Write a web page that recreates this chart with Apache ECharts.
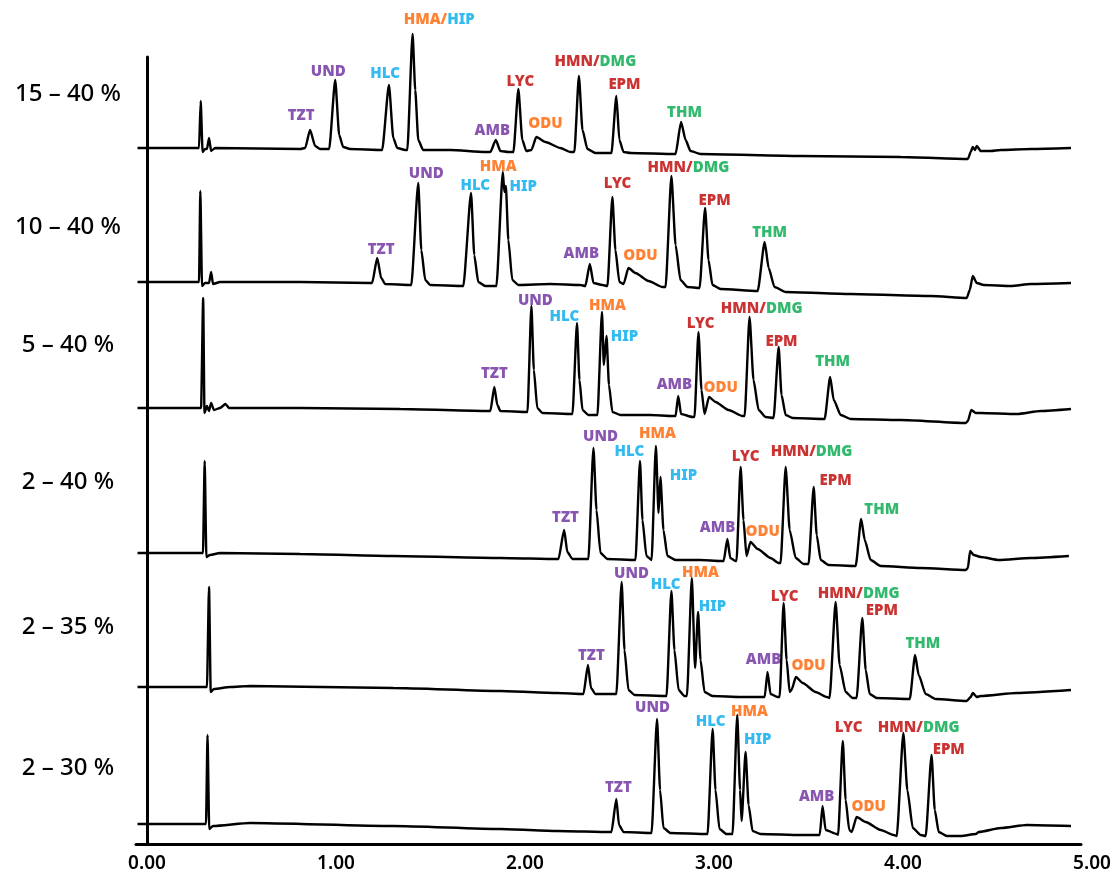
<!DOCTYPE html>
<html><head><meta charset="utf-8">
<script src="https://cdn.jsdelivr.net/npm/echarts@6/dist/echarts.min.js"></script>
<style>html,body{margin:0;padding:0;background:#fff}#c{width:1114px;height:873px}</style>
</head><body><div id="c"></div>
<script>
// ---- data ----
const gradients = ['15 – 40 %', '10 – 40 %', '5 – 40 %', '2 – 40 %', '2 – 35 %', '2 – 30 %'];
const timeTicks = [0, 1, 2, 3, 4, 5];
// vertical offset of each chromatogram (stacking level)
const baselineOffsets = [696, 562, 436, 291, 157, 20];

// [time (min), signal relative to starting baseline]
const trace15_40 = [
[-0.05,0],[0.275,0],[0.284,47],[0.294,-4],[0.307,-1],[0.317,-1],[0.328,10],[0.339,-3],[0.36,0],
[0.81,-1],[0.836,0],[0.862,18],[0.889,2],[0.915,-1],
[0.963,-1],[0.995,68],[1.016,13],[1.037,1],[1.074,-1],
[1.243,-2],[1.279,63],[1.302,10],[1.323,0],[1.365,-2],
[1.376,-2],[1.404,114],[1.418,58],[1.434,8],[1.46,-2],
[1.603,-2],[1.788,-4],
[1.815,-4],[1.844,8],[1.868,-3],[1.91,-4],
[1.937,-4],[1.963,59],[1.984,8],[2.005,-3],
[2.032,-2],[2.058,11],[2.106,6],[2.185,0],[2.238,-4],
[2.259,-4],[2.283,72],[2.302,18],[2.328,-1],[2.37,-5],
[2.455,-5],[2.481,52],[2.497,8],[2.519,-4],[2.556,-5],
[2.794,-6],[2.823,26],[2.847,8],[2.873,-3],[2.926,-6],
[3.455,-8],[3.984,-9],[4.339,-11],
[4.354,-4],[4.365,1],[4.376,-2],[4.386,2],[4.407,-3],[4.46,-3],[4.513,-2],[4.672,-1],[4.884,0]
];
const trace10_40 = [
[-0.05,0],[0.275,0],[0.282,91],[0.291,-4],[0.307,-1],[0.328,-1],[0.339,10],[0.349,-2],[0.386,0],
[0.81,0],[1.18,-1],
[1.19,-1],[1.217,24],[1.238,4],[1.259,-2],
[1.397,-3],[1.434,99],[1.45,32],[1.471,2],[1.497,-3],
[1.672,-4],[1.713,89],[1.73,27],[1.751,0],[1.788,-4],
[1.847,-4],[1.881,110],[1.889,90],[1.897,96],[1.91,42],[1.931,2],[1.963,-3],
[2.132,-2],[2.291,-3],
[2.317,-4],[2.341,18],[2.36,-1],[2.407,-3],
[2.434,-4],[2.46,85],[2.476,32],[2.497,0],[2.519,-2],
[2.545,14],[2.582,9],[2.651,1],[2.725,-5],
[2.741,-5],[2.772,106],[2.794,37],[2.82,2],[2.857,-5],
[2.921,-6],[2.95,74],[2.968,22],[2.989,-3],[3.032,-7],
[3.228,-9],[3.265,40],[3.286,14],[3.317,-5],[3.376,-10],
[3.72,-12],[4.143,-14],[4.333,-16],
[4.349,-8],[4.365,6],[4.386,-1],[4.423,-3],[4.566,-4],[4.672,-2],[4.884,-1]
];
const trace5_40 = [
[-0.05,0],[0.286,0],[0.297,110],[0.304,-5],[0.317,2],[0.328,-3],[0.339,5],[0.354,-2],[0.386,0],[0.415,4],[0.434,0],
[0.81,0],[1.339,-1],[1.804,-3],
[1.815,-3],[1.836,21],[1.852,3],[1.868,-3],
[2.011,-4],[2.032,102],[2.045,38],[2.063,0],[2.09,-5],
[2.249,-6],[2.273,85],[2.286,28],[2.302,-2],[2.333,-7],
[2.381,-7],[2.405,96],[2.415,43],[2.429,72],[2.442,23],[2.46,-4],[2.503,-7],
[2.661,-7],[2.778,-8],
[2.794,-8],[2.808,12],[2.823,-6],[2.884,-9],
[2.894,-9],[2.915,76],[2.931,18],[2.947,-6],
[2.971,11],[3.005,6],[3.074,-2],[3.148,-8],
[3.159,-8],[3.185,91],[3.206,28],[3.233,-2],[3.27,-9],
[3.312,-10],[3.339,61],[3.354,13],[3.376,-7],[3.413,-10],
[3.582,-11],[3.611,31],[3.63,8],[3.667,-7],[3.72,-11],
[3.984,-12],[4.328,-15],
[4.339,-13],[4.357,-2],[4.381,-5],[4.407,-5],[4.598,-6],[4.725,-3],[4.884,-1]
];
const trace2_40 = [
[-0.05,0],[0.296,0],[0.305,92],[0.314,-4],[0.333,-2],[0.386,0],
[0.81,-1],[1.302,-3],[1.868,-5],
[2.175,-6],[2.205,23],[2.222,1],[2.249,-6],
[2.333,-6],[2.36,105],[2.376,43],[2.397,0],[2.434,-6],
[2.582,-7],[2.606,92],[2.619,33],[2.64,-3],[2.667,-7],
[2.69,107],[2.704,40],[2.714,76],[2.73,23],[2.751,-3],[2.794,-7],
[2.926,-7],[3.032,-8],
[3.048,-8],[3.068,14],[3.083,-5],[3.111,-8],
[3.116,-8],[3.138,86],[3.153,33],[3.169,-3],
[3.19,11],[3.228,4],[3.296,-5],[3.339,-10],
[3.349,-10],[3.376,86],[3.397,23],[3.429,-5],[3.471,-11],
[3.497,-11],[3.524,66],[3.54,18],[3.561,-7],[3.603,-12],
[3.746,-13],[3.775,34],[3.794,13],[3.825,-7],[3.878,-13],
[4.09,-15],[4.328,-17],
[4.339,-15],[4.351,2],[4.37,-2],[4.407,-4],[4.503,-7],[4.672,-5],[4.873,-3]
];
const trace2_35 = [
[-0.05,0],[0.317,0],[0.328,100],[0.337,-5],[0.354,-2],[0.439,0],[0.545,1],
[1.302,-1],[1.868,-4],[2.169,-6],
[2.307,-7],[2.331,22],[2.347,-1],[2.37,-7],
[2.481,-7],[2.509,105],[2.524,37],[2.545,-3],[2.577,-8],
[2.746,-9],[2.772,96],[2.788,37],[2.81,-3],[2.841,-9],
[2.854,-9],[2.88,109],[2.897,19],[2.913,75],[2.926,27],[2.947,-5],[2.989,-9],
[3.138,-10],[3.254,-10],
[3.265,-10],[3.28,15],[3.296,-7],[3.333,-10],
[3.344,-10],[3.365,84],[3.381,27],[3.397,-5],
[3.407,-3],[3.43,10],[3.466,4],[3.534,-5],[3.593,-10],
[3.608,-11],[3.64,85],[3.661,22],[3.693,-5],[3.73,-11],
[3.751,-11],[3.781,69],[3.799,17],[3.82,-7],[3.857,-11],
[4.032,-12],[4.06,32],[4.079,12],[4.116,-7],[4.169,-12],
[4.333,-14],
[4.354,-10],[4.365,-6],[4.386,-10],[4.407,-9],[4.598,-6],[4.884,-3]
];
const trace2_30 = [
[-0.05,0],[0.312,0],[0.32,89],[0.329,-5],[0.349,-2],[0.545,1],
[1.302,-2],[1.868,-5],[2.169,-7],
[2.455,-8],[2.481,25],[2.495,-1],[2.519,-8],
[2.667,-9],[2.696,105],[2.712,34],[2.73,-4],[2.767,-9],
[2.963,-10],[2.99,95],[3.005,34],[3.026,-5],[3.063,-10],
[3.095,-10],[3.12,109],[3.135,34],[3.143,3],[3.164,72],[3.18,19],[3.201,-7],[3.243,-10],
[3.455,-11],[3.55,-11],
[3.556,-11],[3.571,18],[3.587,-6],[3.646,-10],
[3.653,-11],[3.678,83],[3.693,24],[3.712,-6],[3.725,-8],
[3.751,7],[3.799,2],[3.878,-6],[3.947,-11],
[3.963,-12],[3.998,91],[4.019,34],[4.048,-4],[4.09,-11],
[4.116,-12],[4.147,69],[4.164,14],[4.185,-8],[4.228,-12],
[4.302,-12],[4.381,-10],[4.397,-8],[4.513,-4],[4.651,-1],[4.884,-2]
];

// peak annotations: [name, time, level]
const peaks15_40 = [['TZT',0.815,728],['UND',0.958,772],['HLC',1.259,770],['HMA/HIP',1.545,824],['AMB',1.825,713],['LYC',1.974,762],['ODU',2.106,720],['HMN/DMG',2.370,782],['EPM',2.524,759],['THM',2.841,731]];
const peaks10_40 = [['TZT',1.238,594],['UND',1.476,670],['HLC',1.735,658],['HMA',1.857,677],['HIP',1.989,657],['AMB',2.296,590],['LYC',2.487,660],['ODU',2.608,588],['HMN/DMG',2.862,676],['EPM',3.0,643],['THM',3.291,611]];
const peaks5_40 = [['TZT',1.836,470],['UND',2.053,543],['HLC',2.206,527],['HMA',2.434,538],['HIP',2.524,507],['AMB',2.788,459],['LYC',2.926,520],['ODU',3.032,456],['HMN/DMG',3.249,535],['EPM',3.354,502],['THM',3.624,482]];
const peaks2_40 = [['TZT',2.212,326],['UND',2.397,407],['HLC',2.550,392],['HMA',2.698,410],['HIP',2.836,368],['AMB',3.016,316],['LYC',3.164,387],['ODU',3.254,312],['HMN/DMG',3.513,392],['EPM',3.640,363],['THM',3.884,334]];
const peaks2_35 = [['TZT',2.349,188],['UND',2.561,270],['HLC',2.741,259],['HMA',2.926,271],['HIP',2.989,237],['AMB',3.259,184],['LYC',3.370,247],['ODU',3.497,178],['HMN/DMG',3.762,250],['EPM',3.884,233],['THM',4.101,200]];
const peaks2_30 = [['TZT',2.492,56],['UND',2.672,136],['HLC',2.979,122],['HMA',3.185,132],['HIP',3.228,104],['AMB',3.540,47],['LYC',3.709,116],['ODU',3.815,37],['HMN/DMG',4.079,116],['EPM',4.238,94]];

// ---- chart ----
const traces = [trace15_40, trace10_40, trace5_40, trace2_40, trace2_35, trace2_30];
const peakSets = [peaks15_40, peaks10_40, peaks5_40, peaks2_40, peaks2_35, peaks2_30];
const gradientLabelLevels = [750, 617, 499, 362, 217, 76];

const compoundClass = {TZT:'p',UND:'p',AMB:'p',HLC:'b',HIP:'b',HMA:'o',ODU:'o',LYC:'r',HMN:'r',EPM:'r',DMG:'g',THM:'g'};
function richName(n){
  const parts = n.split('/');
  return parts.map((p,i)=>'{'+compoundClass[p]+'|'+p+(i<parts.length-1?'/':'')+'}').join('');
}
const lf = {fontFamily:'Noto Sans', fontWeight:900, fontSize:15};
const rich = {
  p:Object.assign({color:'#6A2A9C'},lf),
  b:Object.assign({color:'#00AAEE'},lf),
  o:Object.assign({color:'#FF6200'},lf),
  r:Object.assign({color:'#BE0000'},lf),
  g:Object.assign({color:'#00A84A'},lf)
};

const series = traces.map((tr,i)=>({
  type:'line', xAxisIndex:0, yAxisIndex:0,
  data: tr.map(([t,s])=>[t, s + baselineOffsets[i]]),
  symbol:'none', clip:false, silent:true,
  smooth:0.2, smoothMonotone:'x',
  lineStyle:{color:'#000', width:2.4}
}));
const labelData = [];
peakSets.forEach(set=>set.forEach(([n,t,v])=>labelData.push({value:[t,v], rt:richName(n)})));
series.push({
  type:'scatter', xAxisIndex:0, yAxisIndex:0, data:labelData, clip:false, silent:true,
  symbol:'circle', symbolSize:1, itemStyle:{color:'rgba(0,0,0,0)'},
  label:{show:true, position:'inside', formatter:p=>p.data.rt, rich:rich}
});

const chart = echarts.init(document.getElementById('c'), null, {renderer:'canvas'});
chart.setOption({
  animation:false,
  backgroundColor:'#fff',
  grid:[
    {left:136, right:33, top:57, bottom:29},
    {left:136, right:22, top:57, bottom:29}
  ],
  xAxis:[
    {gridIndex:0, type:'value', min:-0.058, max:4.937,
     axisLine:{show:true, onZero:false, lineStyle:{color:'#000', width:3}},
     axisTick:{show:false}, axisLabel:{show:false}, splitLine:{show:false}},
    {gridIndex:1, type:'value', min:-0.058, max:5.0,
     axisLine:{show:false}, axisTick:{show:false}, splitLine:{show:false},
     axisLabel:{show:true, customValues:timeTicks, formatter:v=>v.toFixed(2), margin:10,
       fontFamily:'Noto Sans', fontWeight:600, fontSize:19, color:'#000'}}
  ],
  yAxis:[
    {gridIndex:0, type:'value', min:0, max:787,
     axisLine:{show:true, lineStyle:{color:'#000', width:3}},
     axisTick:{show:false}, splitLine:{show:false},
     axisLabel:{show:true, customValues:gradientLabelLevels,
       formatter:v=>gradients[gradientLabelLevels.indexOf(v)] || '',
       align:'center', margin:68, fontFamily:'Noto Sans', fontWeight:500, fontSize:24, color:'#000'}},
    {gridIndex:1, type:'value', min:0, max:787, show:false}
  ],
  series:series
});
</script></body></html>
